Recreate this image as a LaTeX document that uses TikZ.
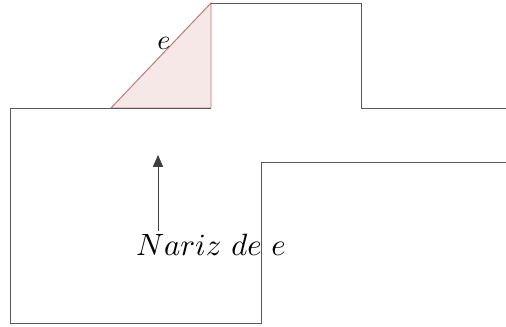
\documentclass[tikz,border=0pt]{standalone}
\usepackage{amsmath}
\usetikzlibrary{positioning,arrows.meta,calc}
\definecolor{nosepink}{RGB}{246,232,230}
\definecolor{noseline}{RGB}{190,120,118}
\tikzset{
  % outline of the figure
  wall/.style   = {draw=black!65, line width=0.35pt},
  % shaded nose triangle
  nosefill/.style = {draw=noseline, fill=nosepink, line width=0.35pt},
  % pointer arrow
  flow/.style   = {-{Triangle[length=4.2pt,width=3.6pt]}, line width=0.35pt, black!75},
}
\begin{document}
\begin{tikzpicture}[x=0.0125cm, y=-0.0125cm]

  \useasboundingbox (0,0) rectangle (506,326);

  % --- corner points of the outline ---
  \coordinate (tr)  at (506,108);
  \coordinate (s1)  at (361,108);
  \coordinate (s2)  at (361,3);
  \coordinate (s3)  at (211,3);
  \coordinate (s4)  at (211,108);
  \coordinate (foot) at (111,108);
  \coordinate (tl)  at (10,108);
  \coordinate (bl)  at (10,323);
  \coordinate (b2)  at (261,323);
  \coordinate (b3)  at (261,162);
  \coordinate (br)  at (506,162);

  % --- nose triangle (drawn first, behind) ---
  \filldraw[nosefill] (foot) -- (s3) -- (s4) -- cycle;
  \node[above, inner sep=2pt, xshift=1pt] (elbl) at ($(foot)!0.5!(s3)$) {$e$};

  % --- outline ---
  \draw[wall] (tr) -- (s1) -- (s2) -- (s3);
  \draw[wall] (s4) -- (tl) -- (bl) -- (b2) -- (b3) -- (br);

  % --- label + arrow ---
  \node[inner sep=1pt, font=\fontsize{10.5}{12}\selectfont] (nariz) at (211,245) {$Nariz\ de\ e$};
  \coordinate (nose) at (158,155);
  \draw[flow] (nariz.north -| nose) -- (nose);

\end{tikzpicture}
\end{document}
